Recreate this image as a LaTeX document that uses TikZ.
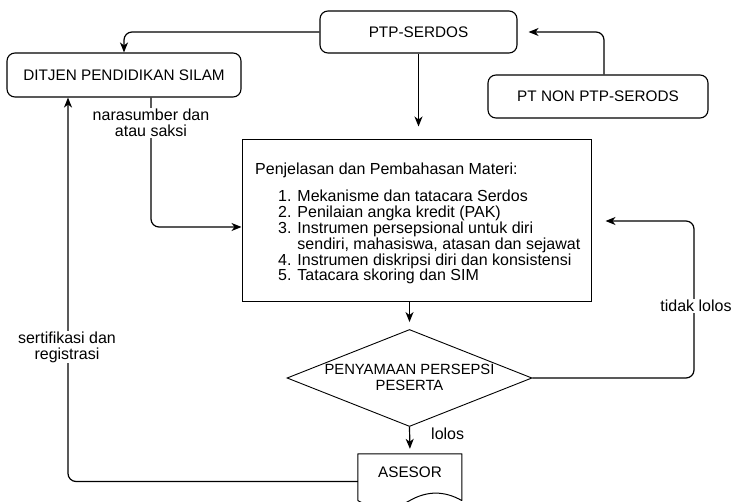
\documentclass[tikz,border=0pt]{standalone}
\usepackage{fontspec}
\setmainfont{Liberation Sans}
\usetikzlibrary{arrows.meta,shapes.geometric,calc}
\tikzset{
  box/.style={draw, rounded corners=8pt, line width=1.1pt, inner sep=0pt,
    font=\fontsize{15.3}{18}\selectfont},
  plainbox/.style={draw, line width=1pt, inner sep=0pt},
  conn/.style={draw, line width=1.2pt, rounded corners=8pt,
    -{Stealth[length=10pt,width=8pt,inset=3pt]}},
  lbl/.style={fill=white, inner sep=1pt, align=center,
    font=\fontsize{16}{16}\selectfont},
  bodytext/.style={inner sep=0pt, anchor=base west, font=\fontsize{16}{16}\selectfont},
}
\begin{document}
\begin{tikzpicture}[x=1pt,y=-1pt]
\fill[white] (0,0) rectangle (733,502);
\clip (0,0) rectangle (733,502);

% boxes
\node[box, minimum width=197pt, minimum height=42pt] (ptp) at (418.5,32) {PTP-SERDOS};
\node[box, minimum width=234pt, minimum height=44pt] (ditjen) at (124,75) {DITJEN PENDIDIKAN SILAM};
\node[box, minimum width=220pt, minimum height=43pt] (ptnon) at (598,96.5) {PT NON PTP-SERODS};
\node[plainbox, minimum width=349pt, minimum height=162pt] (main) at (416.5,221) {};

% contents of the material box
\node[bodytext] (title) at (255,175) {Penjelasan dan Pembahasan Materi:};
\foreach \t [count=\i] in {
  {1. Mekanisme dan tatacara Serdos},
  {2. Penilaian angka kredit (PAK)},
  {3. Instrumen persepsional untuk diri},
  {\phantom{3. }sendiri, mahasiswa, atasan dan sejawat},
  {4. Instrumen diskripsi diri dan konsistensi},
  {5. Tatacara skoring dan SIM}}
  \node[bodytext] (item\i) at (278,{202+15.8*(\i-1)}) {\t};

% decision
\node[diamond, draw, line width=0.9pt, minimum width=245pt, minimum height=97pt,
      inner sep=0pt] (dia) at (409.5,378) {};
\node[inner sep=0pt, anchor=base, font=\fontsize{14.8}{16}\selectfont] (diat1) at (409.5,374) {PENYAMAAN PERSEPSI};
\node[inner sep=0pt, anchor=base, font=\fontsize{14.8}{16}\selectfont] (diat2) at (409.5,390) {PESERTA};

% document shape
\node[minimum width=104pt, minimum height=55pt, inner sep=0pt,
      label={[inner sep=0pt, yshift=9pt, font=\fontsize{15.3}{18}\selectfont]center:ASESOR}]
      (asesor) at (410,481.5) {};
\begin{scope}[shift={(asesor.north west)}]
  \draw[line width=1pt, line join=round]
    (0,46.75) -- (0,0) -- (104,0) -- (104,46.75)
    .. controls (86.67,36.85) and (69.33,36.85) .. (52,46.75)
    .. controls (34.67,56.65) and (17.33,56.65) .. (0,46.75);
\end{scope}

% connectors
\draw[conn] (ptp.west) -| (ditjen.north);
\draw[conn, shorten >=11pt] ([xshift=6pt]ptnon.north) |- (ptp.east);
\draw[conn, shorten >=13pt] (ptp.south) -- (ptp.south |- main.north);
\draw[conn] ([xshift=27pt]ditjen.south) |- ([yshift=-6pt]main.west);
\draw[conn, shorten >=7pt] (main.south -| dia.north) -- (dia.north);
\coordinate (tl) at (694,300);
\draw[conn, shorten >=14pt] (dia.east) -| (tl) |- (main.east);
\draw[conn, shorten >=5pt] (dia.south) -- (asesor.north);
\draw[conn] (asesor.west) -| ([xshift=-56pt]ditjen.south);

% connector labels
\node[lbl] (nara) at (151,123.2) {narasumber dan\\atau saksi};
\node[lbl] (sert) at (67,347) {sertifikasi dan\\registrasi};
\node[lbl, anchor=base] (tidak) at (696,312) {tidak lolos};
\node[lbl, anchor=base west, fill=none] (lolos) at (430,439) {lolos};
\end{tikzpicture}
\end{document}
